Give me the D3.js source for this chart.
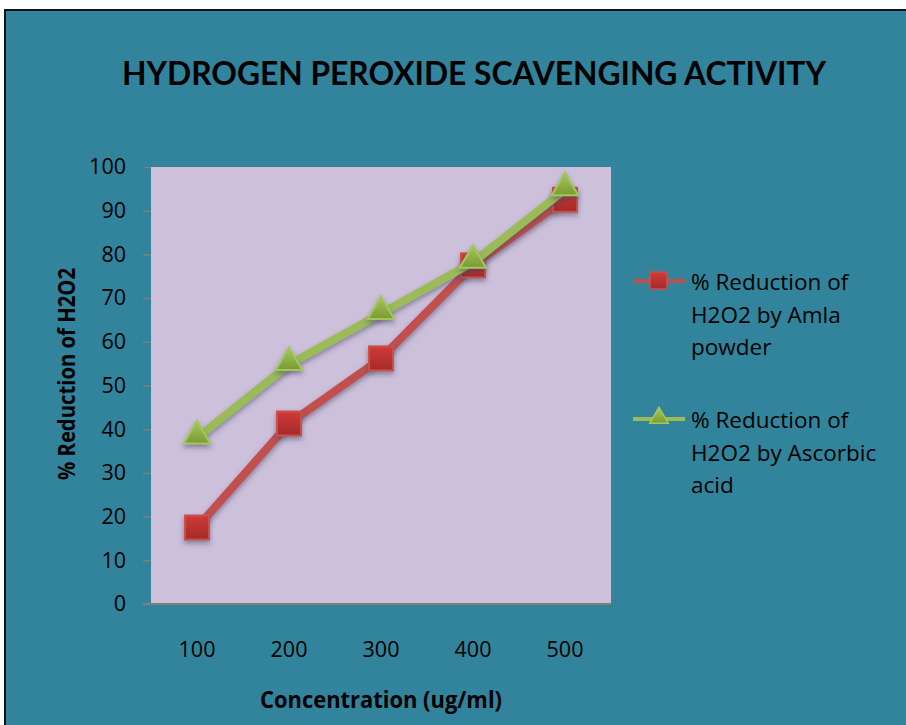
<!DOCTYPE html>
<html><head><meta charset="utf-8">
<script src="https://cdn.jsdelivr.net/npm/d3@7/dist/d3.min.js"></script>
<style>body{margin:0;background:#fff;}svg{display:block;}</style>
</head><body>
<svg id="c" width="906" height="725"></svg>
<script>
const categories = ["100","200","300","400","500"];
const amla = [17.5, 41.3, 56.2, 77.5, 92.5];
const ascorbic = [38, 54.8, 66.5, 78.2, 94.8];
const yTicks = [0,10,20,30,40,50,60,70,80,90,100];
const seriesNames = ["% Reduction of H2O2 by Amla powder", "% Reduction of H2O2 by Ascorbic acid"];
const legendLines = [["% Reduction of","H2O2 by Amla","powder"],["% Reduction of","H2O2 by Ascorbic","acid"]];

const svg = d3.select("#c");
const font = "'Open Sans', sans-serif";
const defs = svg.append("defs");
const gr = defs.append("linearGradient").attr("id","gRed").attr("x1",0).attr("y1",0).attr("x2",0).attr("y2",1);
gr.append("stop").attr("offset","0%").attr("stop-color","#cf3b38");
gr.append("stop").attr("offset","100%").attr("stop-color","#a52a28");
const gg = defs.append("linearGradient").attr("id","gGreen").attr("x1",0).attr("y1",0).attr("x2",0).attr("y2",1);
gg.append("stop").attr("offset","0%").attr("stop-color","#a6c85c");
gg.append("stop").attr("offset","100%").attr("stop-color","#7a9a32");
const sh = defs.append("filter").attr("id","sh").attr("x","-50%").attr("y","-50%").attr("width","200%").attr("height","200%");
sh.append("feDropShadow").attr("dx",0).attr("dy",3).attr("stdDeviation",2.5).attr("flood-color","#404060").attr("flood-opacity",0.5);

// frame
svg.append("rect").attr("x",5).attr("y",10).attr("width",920).attr("height",740)
  .attr("fill","#31849b").attr("stroke","#111").attr("stroke-width",2);

const L=151, R=611, T=167, B=604;
svg.append("rect").attr("x",L).attr("y",T).attr("width",R-L).attr("height",B-T).attr("fill","#ccc0da");

const x = d3.scaleBand().domain(categories).range([L,R]);
const y = d3.scaleLinear().domain([0,100]).range([B,T]);

const yAxis = svg.append("g").attr("transform",`translate(${L},0)`)
  .call(d3.axisLeft(y).tickValues(yTicks).tickSize(8).tickPadding(17));
yAxis.select(".domain").remove();
yAxis.selectAll("line").attr("stroke","#7f7f7f").attr("stroke-width",1.5);
yAxis.selectAll("text").attr("font-family",font).attr("font-size",21.5).attr("fill","#000");

const xAxis = svg.append("g").attr("transform",`translate(0,${B})`)
  .call(d3.axisBottom(x).tickSize(0).tickPadding(38));
xAxis.select(".domain").attr("stroke","#7f7f7f").attr("stroke-width",2).attr("d",`M${L-8},0H${R}`);
xAxis.selectAll("text").attr("font-family",font).attr("font-size",21.5).attr("fill","#000");

const cx = d => x(d) + x.bandwidth()/2;
const line = d3.line().x((d,i)=>cx(categories[i])).y(d=>y(d));

svg.append("path").datum(amla).attr("d",line).attr("fill","none").attr("stroke","#c0504d").attr("stroke-width",8).attr("stroke-linejoin","round").attr("filter","url(#sh)");
svg.selectAll(".sq").data(amla).enter().append("rect")
  .attr("x",(d,i)=>cx(categories[i])-12).attr("y",d=>y(d)-12).attr("width",24).attr("height",24)
  .attr("fill","url(#gRed)").attr("stroke","#c9504d").attr("stroke-width",2).attr("filter","url(#sh)");

svg.append("path").datum(ascorbic).attr("d",line).attr("fill","none").attr("stroke","#9bbb59").attr("stroke-width",8).attr("stroke-linejoin","round").attr("filter","url(#sh)");
const tri = d3.symbol().type(d3.symbolTriangle).size(300);
svg.selectAll(".tr").data(ascorbic).enter().append("path")
  .attr("d",tri).attr("transform",(d,i)=>`translate(${cx(categories[i])},${y(d)-2})`)
  .attr("fill","url(#gGreen)").attr("stroke","#a3c65c").attr("stroke-width",2).attr("filter","url(#sh)");

// titles
svg.append("text").attr("x",474).attr("y",85).attr("text-anchor","middle")
  .attr("font-family","Lato, 'Open Sans', sans-serif").attr("font-weight","bold").attr("font-size",32).attr("fill","#000")
  .attr("textLength",704).attr("lengthAdjust","spacingAndGlyphs")
  .text("HYDROGEN PEROXIDE SCAVENGING ACTIVITY");
svg.append("text").attr("x",381).attr("y",708).attr("text-anchor","middle")
  .attr("font-family",font).attr("font-weight","bold").attr("font-size",23).attr("fill","#000")
  .attr("textLength",242).attr("lengthAdjust","spacingAndGlyphs")
  .text("Concentration (ug/ml)");
svg.append("text").attr("transform","translate(75,374) rotate(-90)").attr("text-anchor","middle")
  .attr("font-family",font).attr("font-weight","bold").attr("font-size",23).attr("fill","#000")
  .attr("textLength",212).attr("lengthAdjust","spacingAndGlyphs")
  .text("% Reduction of H2O2");

// legend
const legY = [281, 419];
legendLines.forEach((lines,k)=>{
  const g = svg.append("g");
  const ly = legY[k];
  g.append("line").attr("x1",633).attr("x2",685).attr("y1",ly).attr("y2",ly)
    .attr("stroke", k===0?"#c0504d":"#9bbb59").attr("stroke-width",4);
  if(k===0){
    g.append("rect").attr("x",650).attr("y",ly-9).attr("width",17).attr("height",17)
     .attr("fill","url(#gRed)").attr("stroke","#c9504d").attr("stroke-width",1.5);
  } else {
    g.append("path").attr("d",d3.symbol().type(d3.symbolTriangle).size(150)).attr("transform",`translate(659,${ly-1})`)
     .attr("fill","url(#gGreen)").attr("stroke","#a3c65c").attr("stroke-width",1.5);
  }
  lines.forEach((t,j)=>{
    g.append("text").attr("x",691).attr("y",ly+9+j*32.5).attr("font-family",font).attr("font-size",22.5).attr("fill","#000").text(t);
  });
});
</script>
</body></html>
